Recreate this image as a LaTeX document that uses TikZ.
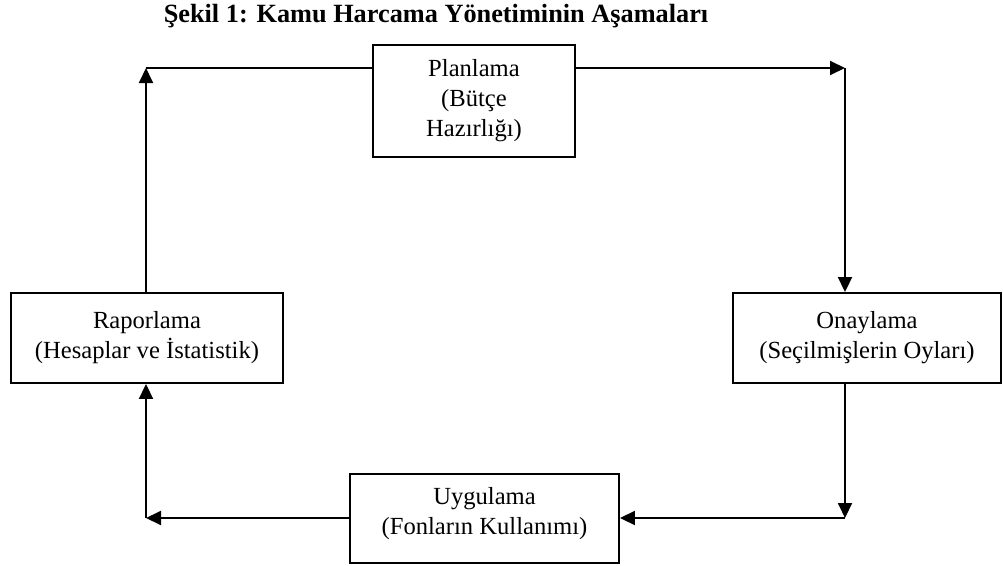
\documentclass[tikz,border=0pt]{standalone}
\usepackage{fontspec}
\setmainfont{Liberation Serif}
\usetikzlibrary{arrows.meta}
\begin{document}
\begin{tikzpicture}[x=1pt,y=-1pt,
  stage/.style={draw,line width=1.9pt,rectangle,align=center,inner sep=0pt,
    font=\fontsize{24.6}{30}\selectfont},
  flow/.style={line width=1.9pt},
  tip/.style={-{Triangle[length=15pt,width=14pt]}}]
\useasboundingbox (0,0) rectangle (1003,565);
% title
\node[font=\fontsize{26.3}{30}\selectfont\bfseries] (title) at (436,16)
  {Şekil 1: Kamu Harcama Yönetiminin Aşamaları};
% stages
\node[stage,minimum width=202pt,minimum height=112pt] (plan) at (474,101)
  {Planlama\\(Bütçe\\Hazırlığı)};
\node[stage,minimum width=268pt,minimum height=90pt] (onay) at (867,338)
  {Onaylama\\(Seçilmişlerin Oyları)};
\node[stage,minimum width=272pt,minimum height=90pt] (rapor) at (147,338)
  {Raporlama\\(Hesaplar ve İstatistik)};
\node[stage,minimum width=269pt,minimum height=89pt] (uyg) at (484.5,518.5)
  {Uygulama\\(Fonların Kullanımı)\rule[-16pt]{0pt}{16pt}};
% corners of the cycle
\coordinate (tl) at (146,68);
\coordinate (tr) at (845,68);
\coordinate (br) at (845,518);
\coordinate (bl) at (146,518);
% connectors
\draw[flow,tip] (tr -| plan.east) -- (tr);
\draw[flow,tip] (tr) -- (tr |- onay.north);
\draw[flow,tip] (br |- onay.south) -- (br);
\draw[flow,tip] (br) -- (br -| uyg.east);
\draw[flow,tip] (bl -| uyg.west) -- (bl);
\draw[flow,tip] (bl) -- (bl |- rapor.south);
\draw[flow,tip] (tl |- rapor.north) -- (tl);
\draw[flow] (tl) -- (tl -| plan.west);
\end{tikzpicture}
\end{document}
